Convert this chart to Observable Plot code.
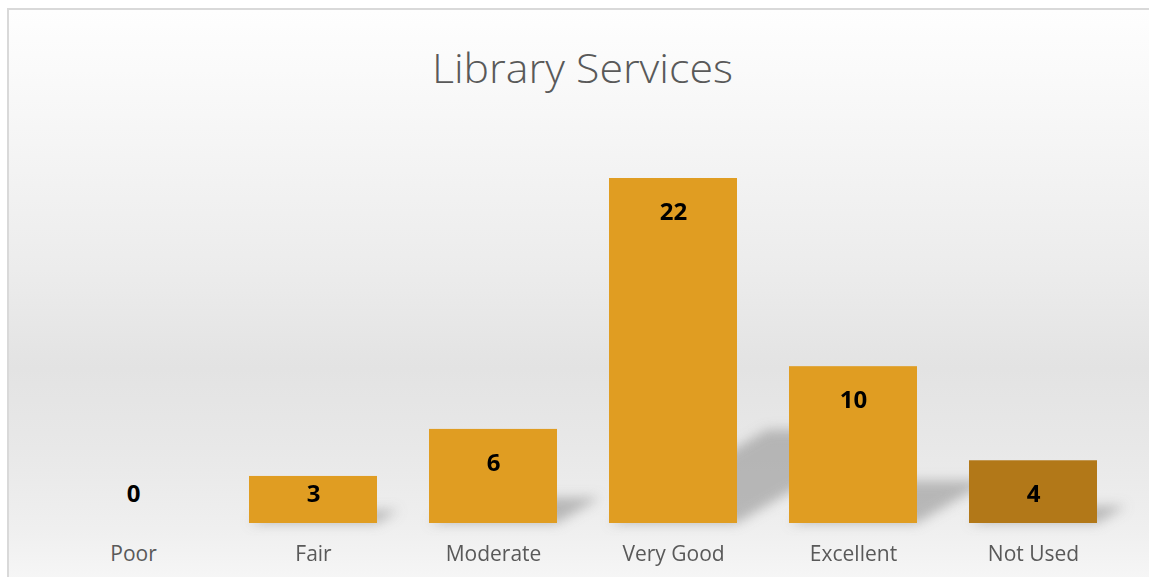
<!DOCTYPE html>
<html>
<head>
<meta charset="utf-8">
<script src="https://cdn.jsdelivr.net/npm/d3@7"></script>
<script src="https://cdn.jsdelivr.net/npm/@observablehq/plot@0.6"></script>
<style>
  html, body { margin: 0; padding: 0; width: 1149px; height: 577px; overflow: hidden; background: #ffffff; }
  #frame {
    position: absolute; left: 7px; top: 8px; width: 1150px; height: 580px;
    border: 2px solid #d9d9d9; box-sizing: border-box;
    background: linear-gradient(to bottom, #fefefe 0%, #f7f7f7 18%, #ececec 45%, #e3e3e3 62%, #e8e8e8 76%, #efefef 90%, #f7f7f7 100%);
  }
  #title {
    position: absolute; left: 8px; top: 38px; width: 1149px; text-align: center;
    font-family: "Open Sans", sans-serif; font-weight: 300; font-size: 40px; color: #595959;
    line-height: 60px; white-space: nowrap;
  }
  #title span { display: inline-block; transform-origin: center; }
  #chart { position: absolute; left: 0; top: 0; }
</style>
</head>
<body>
<div id="frame"></div>
<div id="title"><span>Library Services</span></div>
<div id="chart"></div>
<script>
const title = "Library Services";
const categories = ["Poor", "Fair", "Moderate", "Very Good", "Excellent", "Not Used"];
const counts = [0, 3, 6, 22, 10, 4];

const barColor = "#E09D22";
const notUsedColor = "#B27818";

const data = categories.map((c, i) => ({category: c, value: counts[i]}));

document.querySelector("#title span").textContent = title;

const plot = Plot.plot({
  width: 1149,
  height: 577,
  marginLeft: 41,
  marginRight: 25,
  marginTop: 178,
  marginBottom: 54,
  style: {background: "transparent", fontFamily: "'Open Sans', sans-serif", overflow: "visible"},
  x: {domain: categories, paddingInner: 0.29, paddingOuter: 0.145, label: null},
  y: {domain: [0, 22], axis: null},
  color: {domain: categories, range: categories.map(c => c === "Not Used" ? notUsedColor : barColor)},
  marks: [
    Plot.barY(data, {x: "category", y: "value", fill: "#8a8a8a", fillOpacity: 0.55}),
    Plot.barY(data, {x: "category", y: "value", fill: "category"}),
    Plot.text(data, {x: "category", y: d => Math.max(d.value, 4), text: d => String(d.value), dy: 34,
      fontSize: 24, fontWeight: "bold", fill: "#000000", fontFamily: "'Open Sans', sans-serif"}),
    Plot.axisX({tickSize: 0, tickPadding: 23, fontSize: 21, color: "#595959", label: null,
      fontFamily: "'Open Sans', sans-serif"})
  ]
});

document.getElementById("chart").appendChild(plot);

// shadow effect: blur + perspective shear toward the back-right
const svg = d3.select(plot);
const defs = svg.insert("defs", ":first-child");
const f = defs.append("filter").attr("id", "shadowBlur")
  .attr("filterUnits", "userSpaceOnUse")
  .attr("x", 0).attr("y", 0).attr("width", 1149).attr("height", 577);
f.append("feGaussianBlur").attr("stdDeviation", 6);
const yScale = plot.scale("y");
const base = yScale.apply(0);
const shadowGroup = svg.selectAll('g[aria-label="bar"]').nodes()[0];
d3.select(shadowGroup).selectAll("rect").each(function() {
  const x0 = +this.getAttribute("x");
  this.setAttribute("transform",
    `translate(${x0},${base}) skewX(-59.5) scale(1,0.27) translate(${-x0},${-base})`);
});
d3.select(shadowGroup).attr("filter", "url(#shadowBlur)");

// fit title to reference width
const span = document.querySelector("#title span");
const w = span.getBoundingClientRect().width;
span.style.transform = `scaleX(${301 / w})`;
</script>
</body>
</html>
